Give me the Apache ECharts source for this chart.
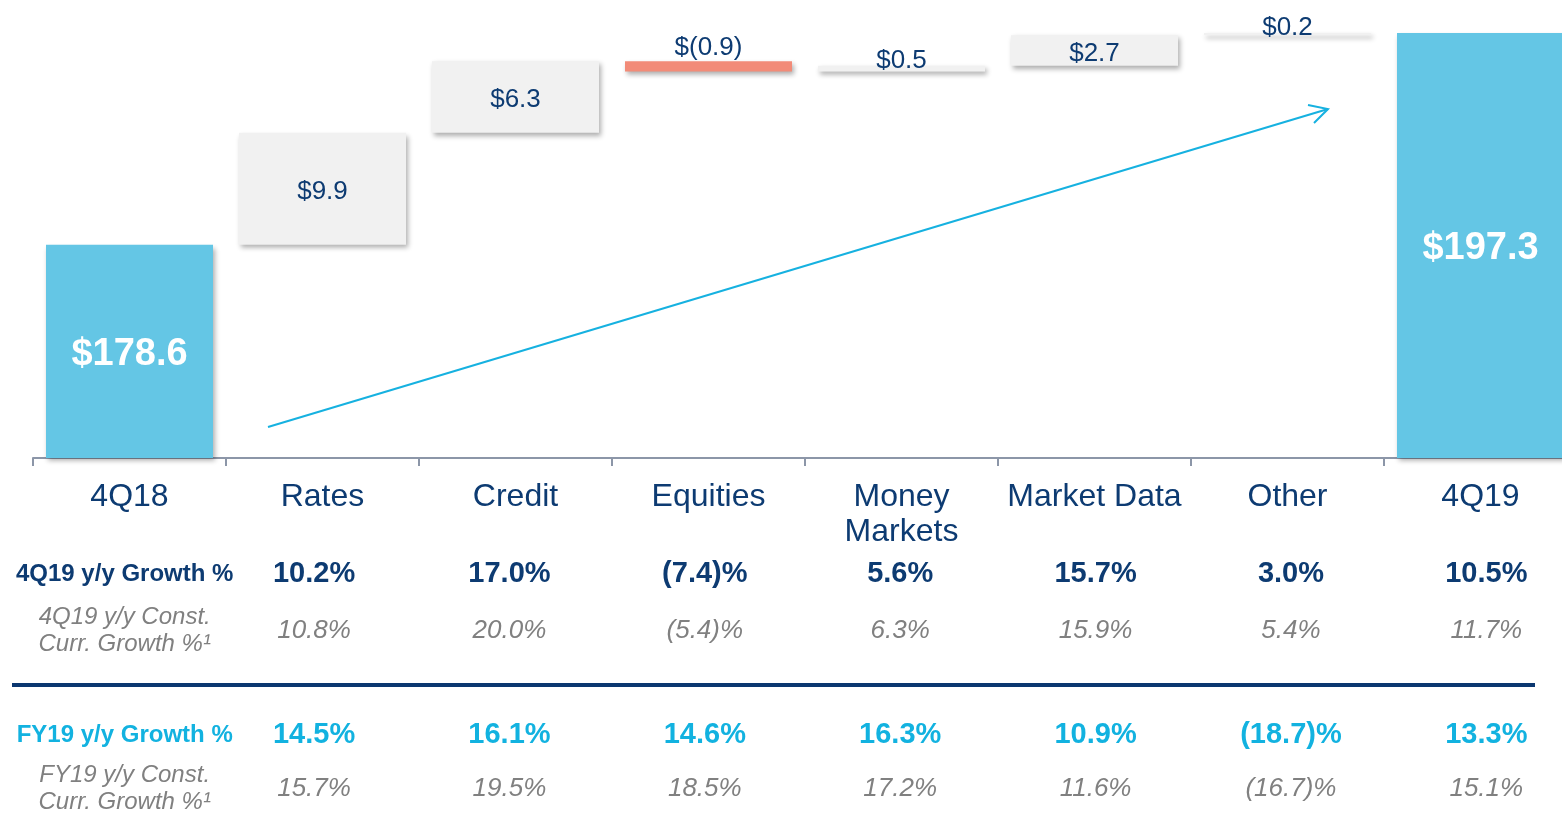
<!DOCTYPE html>
<html>
<head>
<meta charset="utf-8">
<script src="https://cdn.jsdelivr.net/npm/echarts@6/dist/echarts.min.js"></script>
<style>
  html, body { margin: 0; padding: 0; background: #fff; }
  #chart { width: 1562px; height: 816px; }
</style>
</head>
<body>
<div id="chart"></div>
<script>
  // data
  const categories = ['4Q18', 'Rates', 'Credit', 'Equities', 'Money\nMarkets', 'Market Data', 'Other', '4Q19'];
  const changes = [178.6, 9.9, 6.3, -0.9, 0.5, 2.7, 0.2, 197.3];
  const valueLabels = ['$178.6', '$9.9', '$6.3', '$(0.9)', '$0.5', '$2.7', '$0.2', '$197.3'];
  const growth4Q = ['4Q19 y/y Growth %', '10.2%', '17.0%', '(7.4)%', '5.6%', '15.7%', '3.0%', '10.5%'];
  const constCurr4Q = ['4Q19 y/y Const.\nCurr. Growth %¹', '10.8%', '20.0%', '(5.4)%', '6.3%', '15.9%', '5.4%', '11.7%'];
  const growthFY = ['FY19 y/y Growth %', '14.5%', '16.1%', '14.6%', '16.3%', '10.9%', '(18.7)%', '13.3%'];
  const constCurrFY = ['FY19 y/y Const.\nCurr. Growth %¹', '15.7%', '19.5%', '18.5%', '17.2%', '11.6%', '(16.7)%', '15.1%'];

  const NAVY = '#0d3b72';
  const CYAN = '#64c6e5';
  const FONT = "'Liberation Sans', Arial, sans-serif";
  const last = changes.length - 1;

  // waterfall: invisible base + visible step
  let running = 0;
  const baseData = [];
  const stepData = [];
  changes.forEach((c, i) => {
    const isTotal = i === 0 || i === last;
    let base, h;
    if (isTotal) { base = 0; h = c; running = c; }
    else if (c >= 0) { base = running; h = c; running += c; }
    else { base = running + c; h = -c; running += c; }
    baseData.push(+base.toFixed(2));

    let color = '#f1f1f1';
    if (isTotal) color = CYAN;
    else if (c < 0) color = '#f28b78';

    const inside = isTotal || h > 2;
    const label = {
      show: true,
      position: inside ? 'inside' : 'top',
      formatter: valueLabels[i],
      fontFamily: FONT,
      color: isTotal ? '#fff' : NAVY,
      fontSize: isTotal ? 38 : 26,
      fontWeight: isTotal ? 'bold' : 'normal'
    };
    if (inside) label.offset = [0, 3];
    else label.distance = c < 0 ? 0 : -8;
    stepData.push({
      value: +h.toFixed(2),
      itemStyle: {
        color: color,
        shadowColor: 'rgba(0,0,0,0.32)',
        shadowBlur: 5,
        shadowOffsetX: 2,
        shadowOffsetY: 3
      },
      label: label
    });
  });

  // table rows are drawn as axis labels on a second (slightly wider) grid
  function rowAxis(rows, margin, head, val) {
    return {
      type: 'category',
      gridIndex: 1,
      position: 'bottom',
      data: categories,
      axisLine: { show: false },
      axisTick: { show: false },
      axisLabel: {
        interval: 0,
        margin: margin,
        verticalAlign: 'middle',
        formatter: function (v, i) {
          const style = i === 0 ? 'h' : 'v';
          return rows[i].split('\n').map(s => '{' + style + '|' + s + '}').join('\n');
        },
        rich: { h: head, v: val }
      }
    };
  }

  const boldNavyHead = { fontFamily: FONT, fontSize: 24, fontWeight: 'bold', color: NAVY, padding: [0, 0, 0, 12] };
  const boldNavyVal = { fontFamily: FONT, fontSize: 29, fontWeight: 'bold', color: NAVY };
  const greyHead = { fontFamily: FONT, fontSize: 24, fontStyle: 'italic', color: '#808080', lineHeight: 27, padding: [0, 0, 0, 12] };
  const greyVal = { fontFamily: FONT, fontSize: 26, fontStyle: 'italic', color: '#808080' };
  const boldCyanHead = { fontFamily: FONT, fontSize: 24, fontWeight: 'bold', color: '#12b2e0', padding: [0, 0, 0, 12] };
  const boldCyanVal = { fontFamily: FONT, fontSize: 29, fontWeight: 'bold', color: '#12b2e0' };

  const chart = echarts.init(document.getElementById('chart'));
  chart.setOption({
    animation: false,
    grid: [
      { left: 33, right: -15, top: 0, bottom: 358, containLabel: false, outerBoundsMode: 'none' },
      { left: 21, right: -22, top: 0, bottom: 358, containLabel: false, outerBoundsMode: 'none' }
    ],
    xAxis: [
      {
        type: 'category',
        gridIndex: 0,
        data: categories,
        axisLine: { lineStyle: { color: '#8c96a8', width: 2 } },
        axisTick: { show: true, length: 8, lineStyle: { color: '#8c96a8', width: 2 } },
        axisLabel: {
          interval: 0,
          margin: 22,
          color: NAVY,
          fontFamily: FONT,
          fontSize: 32,
          lineHeight: 35
        }
      },
      rowAxis(growth4Q, 116, boldNavyHead, boldNavyVal),
      rowAxis(constCurr4Q, 173, greyHead, greyVal),
      rowAxis(growthFY, 277, boldCyanHead, boldCyanVal),
      rowAxis(constCurrFY, 331, greyHead, greyVal)
    ],
    yAxis: [
      { type: 'value', gridIndex: 0, min: 159.8, max: 200.2, show: false, splitLine: { show: false } },
      { type: 'value', gridIndex: 1, show: false, splitLine: { show: false } }
    ],
    series: [
      {
        type: 'bar',
        stack: 'wf',
        data: baseData,
        barWidth: 167,
        itemStyle: { color: 'transparent' },
        emphasis: { disabled: true },
        silent: true
      },
      {
        type: 'bar',
        stack: 'wf',
        data: stepData,
        barWidth: 167
      }
    ],
    graphic: [
      { type: 'rect', shape: { x: 12, y: 683, width: 1523, height: 4 }, style: { fill: '#0b3770' } },
      { type: 'line', shape: { x1: 268, y1: 427, x2: 1328, y2: 109 }, style: { stroke: '#16b1e0', lineWidth: 2 } },
      { type: 'polyline', shape: { points: [[1308, 105], [1328, 109], [1314, 123]] }, style: { stroke: '#16b1e0', lineWidth: 2, fill: null } }
    ]
  });
</script>
</body>
</html>
